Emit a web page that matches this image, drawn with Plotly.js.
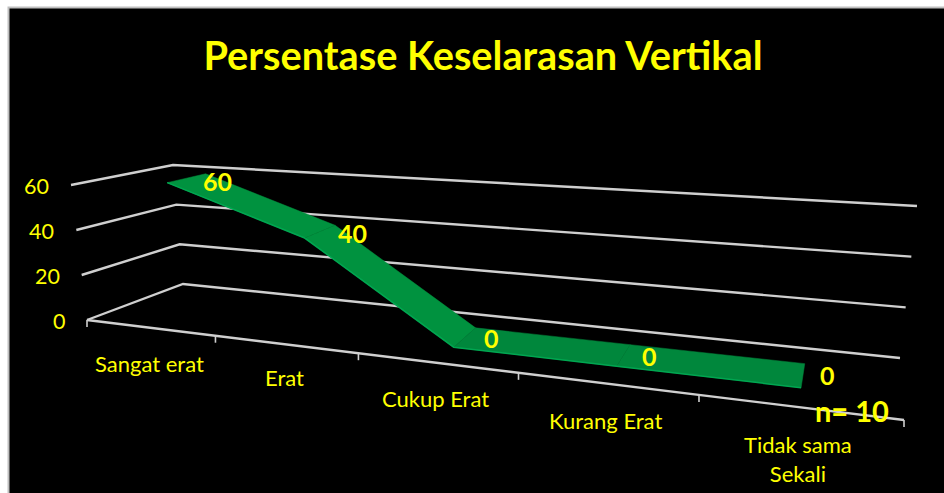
<!DOCTYPE html>
<html><head><meta charset="utf-8">
<script src="https://cdn.plot.ly/plotly-3.0.1.min.js"></script>
<style>html,body{margin:0;padding:0;background:#fff;overflow:hidden}#c{width:944px;height:493px}</style>
</head><body><div id="c"></div>
<script>
const categories = ["Sangat erat","Erat","Cukup Erat","Kurang Erat","Tidak sama<br>Sekali"];
const values = [60,40,0,0,0];
const valueTicks = [0,20,40,60];
const titleText = "Persentase Keselarasan Vertikal";
const noteText = "n= 10";

// Oblique view of the chart box: its eight corners on screen and the foreshortening.
const view = {
  fl0:[87,320], fl1:[71,185], bl0:[183,284], bl1:[173,165],
  fr0:[904,420], fr1:[924,248], br0:[900,358], br1:[917,206],
  k:1.34, vmax:60, n:categories.length
};
function project(u,v,d){
  const s=u/view.n, t=s/(s+view.k*(1-s)), h=v/view.vmax;
  const mix=(a,b,m)=>[a[0]+(b[0]-a[0])*m,a[1]+(b[1]-a[1])*m];
  const f=mix(mix(view.fl0,view.fr0,t),mix(view.fl1,view.fr1,t),h);
  const b=mix(mix(view.bl0,view.br0,t),mix(view.bl1,view.br1,t),h);
  return mix(f,b,d);
}
const line=(pts,color,width,dash)=>({type:'scatter',mode:'lines',x:pts.map(p=>p[0]),y:pts.map(p=>p[1]),
  line:{color,width,simplify:false,dash:dash||'solid'},hoverinfo:'skip',showlegend:false});
const gridColor='#CFCFCF', yellow='#FFFF00', font='Lato, Carlito, sans-serif';
const traces=[];
valueTicks.forEach(v=>traces.push(line([project(0,v,0),project(0,v,1),project(view.n,v,1)],gridColor,2.4)));
traces.push(line([project(0,0,0),project(view.n,0,0)],gridColor,2.4));
for(let u=0;u<=view.n;u++){const p=project(u,0,0);traces.push(line([p,[p[0],p[1]+7]],gridColor,1.6));}

const d0=0.33,d1=0.74;
const segColors=['#00923F','#00923F','#00873C','#00873C'];
values.slice(0,-1).forEach((v,i)=>{
  const w=values[i+1];
  const pts=[project(i+.5,v,d0),project(i+1.5,w,d0),project(i+1.5,w,d1),project(i+.5,v,d1),project(i+.5,v,d0)];
  traces.push({type:'scatter',mode:'lines',x:pts.map(p=>p[0]),y:pts.map(p=>p[1]),fill:'toself',
    fillcolor:segColors[i],line:{color:segColors[i],width:0.5},hoverinfo:'skip',showlegend:false});
});
traces.push(line(values.map((v,i)=>project(i+.5,v,d0)),'#00A651',1.5));
traces.push(line([project(1.5,values[1],d0),project(1.5,values[1],d1)],'#008238',0.6,'dot'));

const ann=[];
const txt=(x,y,text,size,bold,extra)=>Object.assign({xref:'x',yref:'y',x,y,text:bold?'<b>'+text+'</b>':text,showarrow:false,
  font:{family:font,size,color:yellow},xanchor:'center',yanchor:'middle'},extra||{});
valueTicks.forEach(v=>{const p=project(0,v,0);ann.push(txt(p[0],p[1],String(v),21.5,false,{xanchor:'right',xshift:-20,yshift:-1}));});
const catDrop=[36,33,36,37,52];
categories.forEach((c,i)=>{const p=project(i+.5,0,0);
  ann.push(txt(p[0],p[1],c,22,false,{xshift:i===2?-1:0,yshift:-catDrop[i]}));});
const labelShift=[[12,-7],[17,-8],[16,-10],[19,-11],[23,-11]];
values.forEach((v,i)=>{const p=project(i+.5,v,d1);
  ann.push(txt(p[0],p[1],String(v),25,true,{xshift:labelShift[i][0],yshift:labelShift[i][1]}));});
ann.push(txt(852,410,noteText,29,true));

const layout={
  width:944,height:493,margin:{l:0,r:0,t:0,b:0},paper_bgcolor:'#fff',plot_bgcolor:'rgba(0,0,0,0)',
  xaxis:{range:[0,944],visible:false,fixedrange:true},
  yaxis:{range:[493,0],visible:false,fixedrange:true},
  showlegend:false,
  title:{text:'<b>'+titleText+'</b>',x:483/944,xref:'paper',xanchor:'center',y:1-56/493,yref:'paper',yanchor:'middle',
    font:{family:font,size:39.7,color:yellow}},
  shapes:[{type:'rect',layer:'below',xref:'x',yref:'y',x0:8.5,x1:960,y0:7.5,y1:510,fillcolor:'#000',line:{color:'#BFBFBF',width:2}}],
  annotations:ann
};
Plotly.newPlot('c',traces,layout,{displayModeBar:false,staticPlot:true});
</script></body></html>
